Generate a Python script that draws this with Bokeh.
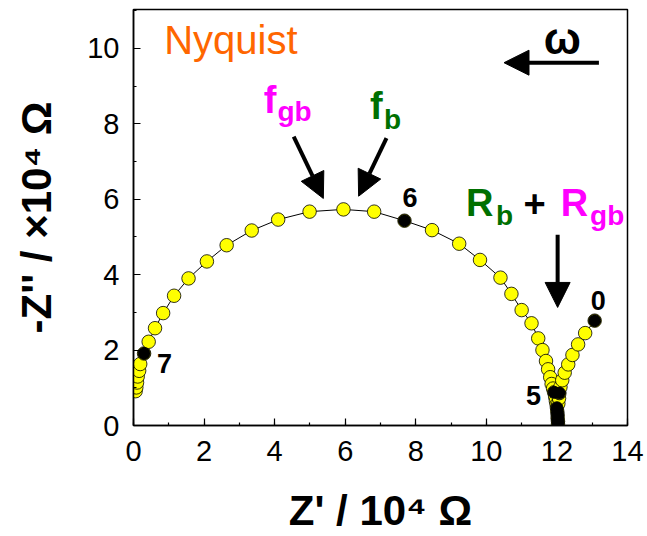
from bokeh.plotting import figure
from bokeh.models import Range1d, FixedTicker, Arrow, NormalHead, ColumnDataSource
from bokeh.embed import file_html
from bokeh.resources import INLINE
from bokeh.core.properties import value

# Impedance spectrum, high -> low frequency; Z' and -Z'' in units of 1e4 ohm
z_real = [0.06, 0.08, 0.10, 0.12, 0.16, 0.19, 0.30, 0.43, 0.61, 0.84,
          1.15, 1.56, 2.08, 2.64, 3.35, 4.10, 4.99, 5.95, 6.82, 7.68,
          8.46, 9.23, 9.82, 10.40, 10.71, 11.00, 11.28, 11.47, 11.59, 11.69,
          11.75, 11.81, 11.85, 11.89, 11.92, 11.95, 11.97, 11.99, 12.00, 12.01,
          12.02, 12.02, 12.03, 12.03, 12.04, 12.06, 12.07, 12.10, 12.15, 12.22,
          12.32, 12.44, 12.60, 12.80, 13.07]
z_imag = [0.91, 1.01, 1.14, 1.30, 1.45, 1.63, 1.91, 2.22, 2.58, 2.98,
          3.44, 3.90, 4.35, 4.78, 5.17, 5.46, 5.67, 5.73, 5.67, 5.43,
          5.18, 4.82, 4.39, 3.92, 3.49, 3.06, 2.71, 2.31, 2.00, 1.71,
          1.49, 1.28, 1.10, 0.98, 0.88, 0.76, 0.65, 0.56, 0.47, 0.37,
          0.28, 0.19, 0.11, 0.04, 0.58, 0.72, 0.86, 1.02, 1.20, 1.40,
          1.62, 1.87, 2.15, 2.45, 2.78]

# Points at whole decades of frequency (log10 f / Hz)
decade_real = [0.30, 7.68, 11.92, 12.00, 12.01, 12.02, 12.02, 12.03, 12.03, 12.07, 13.07]
decade_imag = [1.91, 5.43, 0.88, 0.47, 0.37, 0.28, 0.19, 0.11, 0.04, 0.86, 2.78]

# Labelled decades
label_real = [0.30, 7.68, 11.92, 13.07]
label_imag = [1.91, 5.43, 0.88, 2.78]
label_text = ["7", "6", "5", "0"]

x_ticks = [0, 2, 4, 6, 8, 10, 12, 14]
y_ticks = [0, 2, 4, 6, 8, 10]

SANS = "Liberation Sans"
GREEN = "#007000"
MAGENTA = "#FF00FF"
ORANGE = "#FF6600"

p = figure(width=647, height=536, x_range=Range1d(0, 14), y_range=Range1d(0, 11.03),
           output_backend="svg", toolbar_location=None,
           min_border_left=133, min_border_right=20, min_border_top=9, min_border_bottom=109)
p.grid.visible = False
p.outline_line_color = "black"
p.outline_line_width = 1.5
p.background_fill_color = "white"
p.border_fill_color = "white"

p.xaxis.ticker = FixedTicker(ticks=x_ticks, minor_ticks=list(range(0, 15)))
p.yaxis.ticker = FixedTicker(ticks=y_ticks, minor_ticks=list(range(0, 12)))
for ax in (p.xaxis, p.yaxis):
    ax.axis_line_width = 1.5
    ax.major_tick_in = 7
    ax.major_tick_out = 0
    ax.minor_tick_in = 3
    ax.minor_tick_out = 0
    ax.major_tick_line_width = 1.2
    ax.minor_tick_line_width = 1.2
    ax.major_label_text_font = SANS
    ax.major_label_text_font_size = "29px"
    ax.major_label_text_color = "black"
    ax.axis_label_text_font = SANS
    ax.axis_label_text_font_size = "42px"
    ax.axis_label_text_font_style = "bold"
    ax.axis_label_text_color = "black"
p.xaxis.major_label_standoff = 15
p.yaxis.major_label_standoff = 14
p.xaxis.axis_label = "Z' / 10\u2074 \u03a9"
p.yaxis.axis_label = "-Z'' / \u00d710\u2074 \u03a9"
p.xaxis.axis_label_standoff = 23
p.yaxis.axis_label_standoff = 24

# spectrum
p.line(z_real, z_imag, line_color="black", line_width=1)
p.scatter(z_real, z_imag, size=13.5, fill_color="#FFFF00", line_color="black", line_width=0.8)
p.scatter(decade_real, decade_imag, size=12, fill_color="black", line_color="black")

lab_src = ColumnDataSource(dict(x=label_real, y=label_imag, t=label_text,
                                dx=[13, -2, -28, -4], dy=[10, -23, 3, -20]))
p.text("x", "y", text="t", source=lab_src, x_offset="dx", y_offset="dy",
       text_font=value(SANS), text_font_size="27px", text_font_style="bold",
       text_color="black", text_baseline="alphabetic", text_align="left")

# annotations inside the frame; the pixel lift keeps the baseline where intended
def txt(x, y, s, color, size, style="bold", align="left", font=SANS):
    lift = -round(0.35 * size)
    p.text([x], [y], text=[s], text_font=value(font), text_font_size=f"{size}px",
           text_font_style=style, text_color=color, text_baseline="alphabetic",
           text_align=align, y_offset=lift)

txt(0.87, 9.84, "Nyquist", ORANGE, 40, style="normal")
txt(12.15, 9.87, "ω", "black", 44, align="center")
txt(3.69, 8.28, "f", MAGENTA, 38)
txt(4.08, 8.06, "gb", MAGENTA, 28)
txt(6.70, 8.12, "f", GREEN, 38)
txt(7.10, 7.84, "b", GREEN, 28)
txt(9.42, 5.55, "R", GREEN, 38)
txt(10.27, 5.29, "b", GREEN, 28)
txt(11.05, 5.55, "+", "black", 38)
txt(12.11, 5.55, "R", MAGENTA, 38)
txt(12.94, 5.29, "gb", MAGENTA, 28)

def arrow(x0, y0, x1, y1):
    p.add_layout(Arrow(end=NormalHead(size=25, fill_color="black", line_color="black",
                                      line_width=1),
                       x_start=x0, y_start=y0, x_end=x1, y_end=y1,
                       line_width=4, line_color="black"))

arrow(13.19, 9.62, 10.50, 9.62)
arrow(4.54, 7.66, 5.38, 6.02)
arrow(7.17, 7.62, 6.38, 6.08)
arrow(12.02, 5.06, 12.02, 3.13)

open("out.html", "w").write(file_html(p, INLINE))
